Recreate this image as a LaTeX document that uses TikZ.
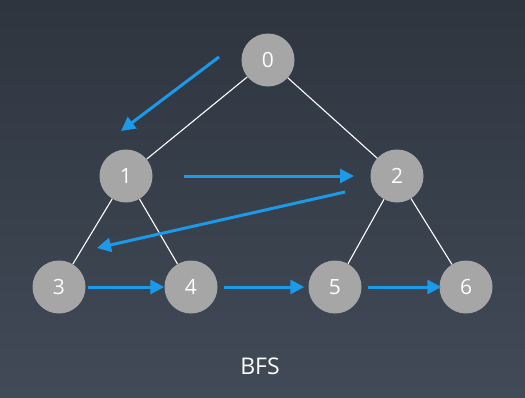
\documentclass[tikz,border=0pt]{standalone}
\usepackage{fontspec}
\setmainfont{Open Sans}
\usepackage{tikz}
\usetikzlibrary{arrows.meta}

\definecolor{bgtop}{HTML}{2E353F}
\definecolor{bgbot}{HTML}{414A57}
\definecolor{vertex}{HTML}{A6A6A6}
\definecolor{visit}{HTML}{1A9AE8}

\tikzset{
  vtx/.style={circle, fill=vertex, minimum size=53pt, inner sep=0pt, text=white, font=\fontsize{21}{23}\selectfont},
  edge/.style={draw=white, line width=1.1pt},
  order/.style={draw=visit, line width=3pt, -{Triangle[length=14pt,width=14pt]}}
}

\begin{document}
\begin{tikzpicture}[x=1pt, y=-1pt]
      \fill[top color=bgtop, bottom color=bgbot] (0,0) rectangle (525,397);
      \useasboundingbox (0,0) rectangle (525,397);

      % tree
      \node[vtx] (n0) at (268,60) {0};
      \node[vtx] (n1) at (126,176) {1};
      \node[vtx] (n2) at (397,176) {2};
      \node[vtx] (n3) at (59,287) {3};
      \node[vtx] (n4) at (191,287) {4};
      \node[vtx] (n5) at (335,287) {5};
      \node[vtx] (n6) at (466,287) {6};
      \foreach \a/\b in {n0/n1, n0/n2, n1/n3, n1/n4, n2/n5, n2/n6}
        \draw[edge] (\a) -- (\b);

      % visiting order
      \coordinate (s0) at (219,57);
      \coordinate (t0) at (121,131);
      \coordinate (s1) at (184,176);
      \coordinate (t1) at (354,176);
      \coordinate (s2) at (345,192);
      \coordinate (t2) at (97,248);
      \draw[order] (s0) -- (t0);
      \draw[order] (s1) -- (t1);
      \draw[order] (s2) -- (t2);
      \draw[order, shorten <=2pt] (n3) -- (n4);
      \draw[order, shorten <=6pt, shorten >=4pt] (n4) -- (n5);
      \draw[order, shorten <=6pt, shorten >=-2pt] (n5) -- (n6);

      \node[text=white, font=\fontsize{23}{26}\selectfont] (title) at (260,366) {BFS};
    \end{tikzpicture}
\end{document}
